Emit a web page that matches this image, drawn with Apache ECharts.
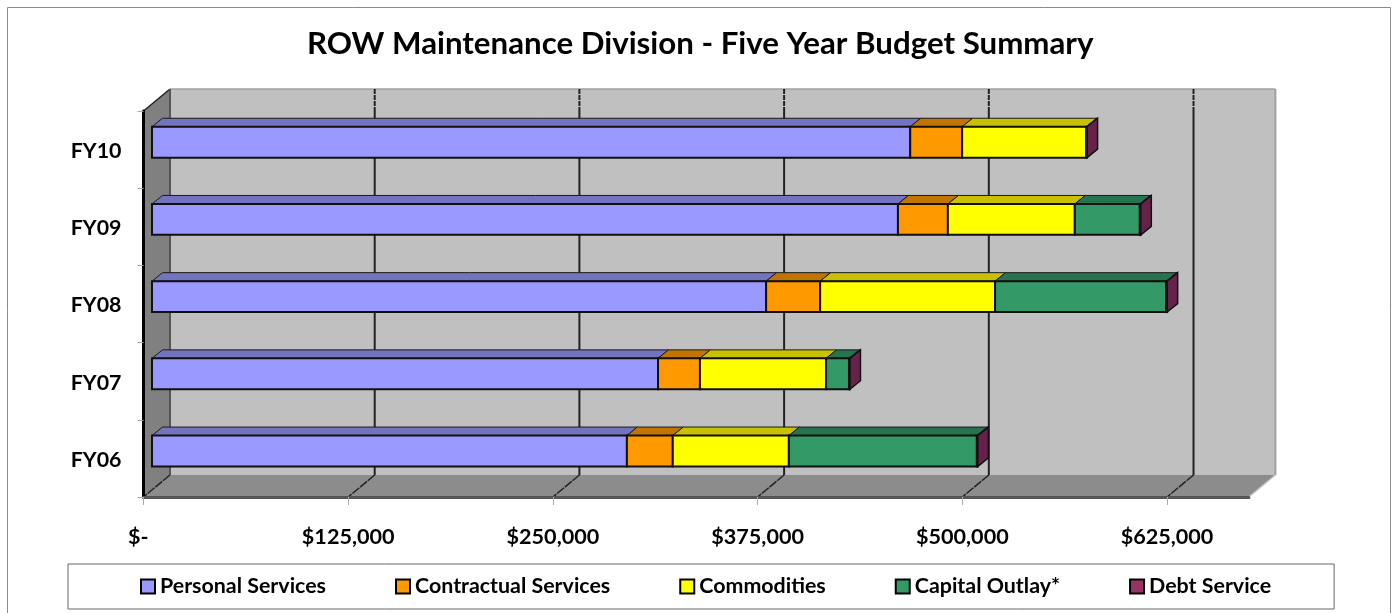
<!DOCTYPE html>
<html>
<head>
<meta charset="utf-8">
<title>ROW Maintenance Division - Five Year Budget Summary</title>
<script src="https://cdn.jsdelivr.net/npm/echarts@6/dist/echarts.min.js"></script>
<style>
  html, body { margin: 0; padding: 0; background: #fff; }
  #chart { width: 1394px; height: 613px; }
</style>
</head>
<body>
<div id="chart"></div>
<script>
const years = ["FY06", "FY07", "FY08", "FY09", "FY10"];
const personal = [290000, 309000, 375000, 455500, 463000];
const contractual = [28000, 25600, 33000, 30500, 31700];
const commodities = [70900, 77000, 106800, 77500, 75700];
const capital = [114800, 14000, 104500, 39700, 0];
const debt = [600, 600, 600, 600, 600];
const tickValues = [0, 125000, 250000, 375000, 500000, 625000];
const axisMax = 675000;

const segments = [
  { name: "Personal Services", values: personal, front: "#9999ff", top: "#7373bf" },
  { name: "Contractual Services", values: contractual, front: "#ff9900", top: "#c27400" },
  { name: "Commodities", values: commodities, front: "#ffff00", top: "#c8c000" },
  { name: "Capital Outlay*", values: capital, front: "#339966", top: "#267350" },
  { name: "Debt Service", values: debt, front: "#993366", top: "#732650" },
];

const font = "Lato, 'Open Sans', sans-serif";
const wallDx = 26.5, wallDy = -22; // depth of the 3d box
const barDx = 10.5, barDy = -8.5; // depth of one bar
const barOffX = 8.5, barOffY = -7.4; // bars sit a little behind the front plane
const barRatio = 0.4;
const sideColor = "#66224a";

function poly(points, fill, stroke, lw) {
  return {
    type: "polygon",
    shape: { points: points },
    style: { fill: fill, stroke: stroke || null, lineWidth: lw || 0 },
  };
}

function line(x1, y1, x2, y2, stroke, lw, dash) {
  return {
    type: "line",
    shape: { x1: x1, y1: y1, x2: x2, y2: y2 },
    style: { stroke: stroke, lineWidth: lw, lineDash: dash || null, fill: null },
  };
}

function renderWalls(params, api) {
  const band = api.size([0, 1])[1];
  const x0 = api.coord([0, 0])[0];
  const x1 = api.coord([axisMax, 0])[0];
  const bottom = api.coord([0, 0])[1] + band / 2;
  const top = api.coord([0, years.length - 1])[1] - band / 2;
  const bx0 = x0 + wallDx, bx1 = x1 + wallDx;
  const by0 = top + wallDy, by1 = bottom + wallDy;
  const kids = [
    poly([[bx0, by0], [bx1, by0], [bx1, by1], [bx0, by1]], "#c0c0c0"),
    poly([[x0, top], [bx0, by0], [bx0, by1], [x0, bottom]], "#808080"),
    poly([[x0, bottom], [bx0, by1], [bx1, by1], [x1, bottom]], "#8c8c8c"),
    line(bx0, by0, bx1, by0, "#a0a0a0", 1.5),
    line(bx1, by0, bx1, by1, "#a0a0a0", 2),
    line(bx1, by1, x1, bottom, "#c8c8c8", 1.5),
    line(bx0, by0, x0, top, "#222", 1.5),
    line(bx0, by0, bx0, by1, "#555", 2),
  ];
  tickValues.forEach((v) => {
    const x = api.coord([v, 0])[0];
    if (v > 0) {
      kids.push(line(x + wallDx, by0, x + wallDx, by0 + 20, "#222", 2, [5, 1]));
      kids.push(line(x + wallDx, by0 + 20, x + wallDx, by1, "#222", 2));
    }
    kids.push(line(x + wallDx, by1, x, bottom, "#222", 1.5, [9, 1]));
  });
  return { type: "group", children: kids };
}

function makeRenderBar(seg, last) {
  return function (params, api) {
    const start = api.value(0), end = api.value(1), cat = api.value(2);
    const band = api.size([0, 1])[1];
    const h = band * barRatio;
    const p0 = api.coord([start, cat]);
    const p1 = api.coord([end, cat]);
    const xa = p0[0] + barOffX, xb = p1[0] + barOffX;
    const yt = p0[1] - h / 2 + barOffY, yb = p0[1] + h / 2 + barOffY;
    const kids = [];
    if (end > start) {
      kids.push(poly([[xa, yt], [xa + barDx, yt + barDy], [xb + barDx, yt + barDy], [xb, yt]], seg.top, "#1a1a1a", 1));
      kids.push({
        type: "rect",
        shape: { x: xa, y: yt, width: xb - xa, height: yb - yt },
        style: { fill: seg.front, stroke: "#111", lineWidth: 2 },
      });
    }
    if (last) {
      kids.push(poly([[xb, yt], [xb + barDx, yt + barDy], [xb + barDx, yb + barDy], [xb, yb]], sideColor, "#111", 1.5));
    }
    return { type: "group", children: kids };
  };
}

const barSeries = segments.map((seg, i) => ({
  name: seg.name,
  type: "custom",
  coordinateSystem: "cartesian2d",
  z: 3 + i,
  itemStyle: { color: seg.front },
  encode: { x: [0, 1], y: 2 },
  renderItem: makeRenderBar(seg, i === segments.length - 1),
  data: seg.values.map((v, c) => {
    let start = 0;
    for (let k = 0; k < i; k++) start += segments[k].values[c];
    return [start, start + v, c];
  }),
}));

const myChart = echarts.init(document.getElementById("chart"), null, { renderer: "canvas" });
const option = {
  animation: false,
  backgroundColor: "#fff",
  title: {
    text: "ROW Maintenance Division - Five Year Budget Summary",
    left: 307,
    top: 28,
    textStyle: { fontFamily: font, fontWeight: "bold", fontSize: 31.25, color: "#000" },
    padding: 0,
  },
  graphic: [
    {
      type: "polyline",
      shape: { points: [[7.5, 613], [7.5, 7.5], [1390.5, 7.5], [1390.5, 613]] },
      style: { stroke: "#8a8a8a", lineWidth: 1, fill: null },
    },
  ],
  legend: {
    left: 68,
    top: 564,
    padding: [12, 63, 12, 72],
    itemGap: 69,
    itemWidth: 14,
    itemHeight: 14,
    icon: "rect",
    borderColor: "#666",
    borderWidth: 1,
    textStyle: { fontFamily: font, fontWeight: "bold", fontSize: 21.4, color: "#000" },
    data: segments.map((s) => ({
      name: s.name,
      itemStyle: { color: s.front, borderColor: "#000", borderWidth: 2 },
    })),
  },
  grid: { left: 143.5, top: 111, width: 1105.4, height: 386 },
  xAxis: {
    type: "value",
    min: 0,
    max: axisMax,
    interval: 125000,
    z: 5,
    axisLine: { show: true, lineStyle: { color: "#555", width: 3 } },
    axisTick: { show: true, length: 8, customValues: tickValues, lineStyle: { color: "#aaa" } },
    splitLine: { show: false },
    axisLabel: {
      margin: 29,
      customValues: tickValues,
      fontFamily: font,
      fontWeight: "bold",
      fontSize: 21.6,
      color: "#000",
      formatter: (v) => (v === 0 ? "$-  " : "$" + v.toLocaleString("en-US")),
    },
  },
  yAxis: {
    type: "category",
    data: years,
    z: 5,
    axisLine: { show: true, onZero: false, lineStyle: { color: "#000", width: 3 } },
    axisTick: { show: true, length: 6, lineStyle: { color: "#aaa" } },
    axisLabel: {
      margin: 22,
      verticalAlign: "top",
      lineHeight: 3,
      fontFamily: font,
      fontWeight: "bold",
      fontSize: 21.4,
      color: "#000",
    },
  },
  series: [
    {
      type: "custom",
      silent: true,
      z: 1,
      renderItem: renderWalls,
      encode: { x: 0, y: 1 },
      data: [[0, 0]],
    },
  ].concat(barSeries),
};
option && myChart.setOption(option);
</script>
</body>
</html>
